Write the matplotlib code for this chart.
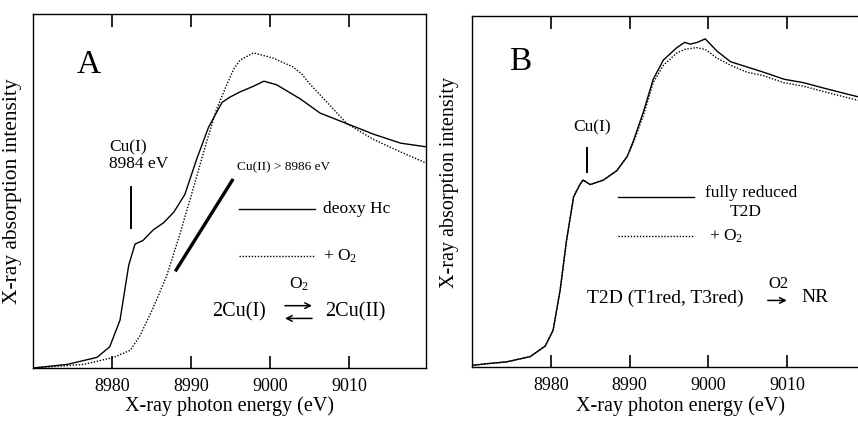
import matplotlib
matplotlib.use("Agg")
import matplotlib.pyplot as plt

plt.rcParams['font.family'] = ['Liberation Serif', 'DejaVu Sans']
plt.rcParams['mathtext.fontset'] = 'custom'
plt.rcParams['mathtext.rm'] = 'Liberation Serif'
plt.rcParams['mathtext.it'] = 'Liberation Serif:italic'

# パネルA: deoxy Hc（実線）と +O2（点線）
a_e_deoxy = [8970.0, 8974.3, 8978.1, 8979.7, 8981.0, 8982.1, 8982.9, 8983.9, 8985.2,
             8986.5, 8987.8, 8989.2, 8990.7, 8992.2, 8993.9, 8994.9, 8996.2, 8997.8,
             8999.2, 9000.8, 9003.8, 9006.3, 9009.7, 9013.1, 9016.5, 9019.6]
a_i_deoxy = [0.0, 0.01, 0.03, 0.06, 0.135, 0.29, 0.35, 0.36, 0.39,
             0.41, 0.44, 0.49, 0.59, 0.68, 0.75, 0.765, 0.78, 0.795,
             0.81, 0.80, 0.76, 0.72, 0.69, 0.66, 0.635, 0.625]
a_e_oxy = [8970.0, 8976.4, 8980.2, 8982.3, 8983.5, 8985.2, 8986.9, 8988.6, 8990.3,
           8991.9, 8993.2, 8994.5, 8995.4, 8996.2, 8997.9, 9000.4, 9002.9, 9004.0,
           9005.1, 9007.2, 9009.7, 9013.1, 9016.5, 9019.6]
a_i_oxy = [0.0, 0.01, 0.03, 0.05, 0.09, 0.17, 0.26, 0.38, 0.51,
           0.635, 0.73, 0.80, 0.845, 0.87, 0.89, 0.875, 0.85, 0.83,
           0.80, 0.75, 0.69, 0.645, 0.61, 0.58]
a_cu1_edge = 8982.4
a_cu1_mark = [0.395, 0.511]
a_cu2_line_e = [8988.1, 8995.2]
a_cu2_line_i = [0.277, 0.53]

# パネルB: fully reduced T2D（実線）と +O2（点線）
b_e_red = [8970.0, 8972.0, 8974.4, 8977.4, 8979.3, 8980.3, 8981.2, 8982.0, 8982.9,
           8983.7, 8984.1, 8985.0, 8986.7, 8988.4, 8989.7, 8990.5, 8991.8, 8993.0,
           8994.3, 8996.0, 8997.0, 8997.7, 8998.6, 8999.6, 9001.1, 9002.8, 9004.9,
           9007.0, 9009.6, 9012.1, 9014.6, 9017.2, 9019.0]
b_i_red = [0.005, 0.01, 0.015, 0.03, 0.06, 0.105, 0.22, 0.36, 0.485,
           0.52, 0.533, 0.52, 0.533, 0.56, 0.60, 0.645, 0.73, 0.82,
           0.875, 0.91, 0.925, 0.92, 0.925, 0.935, 0.90, 0.87, 0.855,
           0.84, 0.82, 0.81, 0.795, 0.78, 0.77]
b_e_oxy = [8970.0, 8972.0, 8974.4, 8977.4, 8979.3, 8980.3, 8981.2, 8982.0, 8982.9,
           8983.7, 8984.1, 8985.0, 8986.7, 8988.4, 8989.7, 8990.5, 8991.8, 8993.0,
           8994.3, 8996.0, 8997.0, 8998.5, 8999.6, 9001.1, 9002.8, 9004.9,
           9007.0, 9009.6, 9012.1, 9014.6, 9017.2, 9019.0]
b_i_oxy = [0.005, 0.01, 0.015, 0.03, 0.06, 0.105, 0.22, 0.36, 0.485,
           0.52, 0.533, 0.52, 0.533, 0.56, 0.60, 0.64, 0.72, 0.81,
           0.86, 0.895, 0.905, 0.91, 0.905, 0.88, 0.86, 0.84,
           0.83, 0.81, 0.80, 0.785, 0.77, 0.76]
b_cu1_edge = 8984.6
b_cu1_mark = [0.556, 0.624]

XTICKS = [8980, 8990, 9000, 9010]


def style_axes(ax, xlim):
    ax.set_xlim(*xlim)
    ax.set_ylim(0, 1)
    ax.set_xticks(XTICKS)
    ax.set_yticks([])
    ax.tick_params(axis='x', direction='in', top=True, length=9, width=1.2,
                   labelsize=13, pad=7)
    for s in ax.spines.values():
        s.set_linewidth(1.0)
    ax.set_xlabel('X-ray photon energy (eV)', fontsize=14.5)


def arrow(ax, x0, x1, y):
    ax.annotate('', xy=(x1, y), xytext=(x0, y), xycoords='axes fraction',
                arrowprops=dict(arrowstyle='->', lw=1.1, color='black',
                                shrinkA=0, shrinkB=0, mutation_scale=10))


fig = plt.figure(figsize=(8.58, 4.22), dpi=100)
axA = fig.add_axes([0.0385, 0.128, 0.458, 0.839])
axB = fig.add_axes([0.550, 0.130, 0.452, 0.832])

# ---- A ----
axA.plot(a_e_deoxy, a_i_deoxy, color='black', lw=1.0)
axA.plot(a_e_oxy, a_i_oxy, color='black', lw=1.0, ls=(0, (1, 1.2)))
axA.plot([a_cu1_edge, a_cu1_edge], a_cu1_mark, color='black', lw=1.4)
axA.plot(a_cu2_line_e, a_cu2_line_i, color='black', lw=2.4)
style_axes(axA, (8970, 9019.7))
axA.set_ylabel('X-ray absorption intensity', fontsize=15.5)
axA.yaxis.set_label_coords(-0.029, 0.50)
axA.xaxis.set_label_coords(0.501, -0.080)

axA.text(0.1425, 0.856, 'A', fontsize=24, ha='center', va='center', transform=axA.transAxes)
axA.text(0.193, 0.60, 'Cu(I)\n8984 eV', fontsize=12.5, ha='left', va='center',
         linespacing=1.0, transform=axA.transAxes)
axA.text(0.519, 0.568, 'Cu(II) > 8986 eV', fontsize=9.5, ha='left', va='center',
         transform=axA.transAxes)
axA.plot([0.524, 0.718], [0.449, 0.449], color='black', lw=1.0, transform=axA.transAxes)
axA.text(0.738, 0.449, 'deoxy Hc', fontsize=12.5, ha='left', va='center', transform=axA.transAxes)
axA.plot([0.524, 0.718], [0.316, 0.316], color='black', lw=1.0, ls=(0, (1, 1.2)),
         transform=axA.transAxes)
axA.text(0.738, 0.316, r'+ $\mathrm{O}_2$', fontsize=12.5, ha='left', va='center',
         transform=axA.transAxes)
axA.text(0.455, 0.158, '2Cu(I)', fontsize=14.5, ha='left', va='center', transform=axA.transAxes)
arrow(axA, 0.641, 0.710, 0.176)
arrow(axA, 0.710, 0.641, 0.140)
axA.text(0.676, 0.235, r'$\mathrm{O}_2$', fontsize=12.5, ha='center', va='center',
         transform=axA.transAxes)
axA.text(0.743, 0.158, '2Cu(II)', fontsize=14.5, ha='left', va='center', transform=axA.transAxes)

# ---- B ----
axB.plot(b_e_red, b_i_red, color='black', lw=1.0)
axB.plot(b_e_oxy, b_i_oxy, color='black', lw=1.0, ls=(0, (1, 1.2)))
axB.plot([b_cu1_edge, b_cu1_edge], b_cu1_mark, color='black', lw=1.4)
style_axes(axB, (8970, 9019.2))
axB.set_ylabel('X-ray absorption intensity', fontsize=14.5)
axB.yaxis.set_label_coords(-0.033, 0.527)
axB.xaxis.set_label_coords(0.539, -0.083)

axB.text(0.124, 0.869, 'B', fontsize=24, ha='center', va='center', transform=axB.transAxes)
axB.text(0.311, 0.684, 'Cu(I)', fontsize=12.5, ha='center', va='center', transform=axB.transAxes)
axB.plot([0.378, 0.573], [0.484, 0.484], color='black', lw=1.0, transform=axB.transAxes)
axB.text(0.601, 0.496, 'fully reduced', fontsize=12.5, ha='left', va='center',
         transform=axB.transAxes)
axB.text(0.707, 0.442, 'T2D', fontsize=12.5, ha='center', va='center', transform=axB.transAxes)
axB.plot([0.378, 0.573], [0.373, 0.373], color='black', lw=1.0, ls=(0, (1, 1.2)),
         transform=axB.transAxes)
axB.text(0.611, 0.373, r'+ $\mathrm{O}_2$', fontsize=12.5, ha='left', va='center',
         transform=axB.transAxes)
axB.text(0.298, 0.197, 'T2D (T1red, T3red)', fontsize=14, ha='left', va='center',
         transform=axB.transAxes)
arrow(axB, 0.763, 0.812, 0.190)
axB.text(0.79, 0.238, 'O2', fontsize=12, ha='center', va='center', transform=axB.transAxes)
axB.text(0.85, 0.197, 'NR', fontsize=14, ha='left', va='center', transform=axB.transAxes)

fig.savefig('out.png', dpi=100)
